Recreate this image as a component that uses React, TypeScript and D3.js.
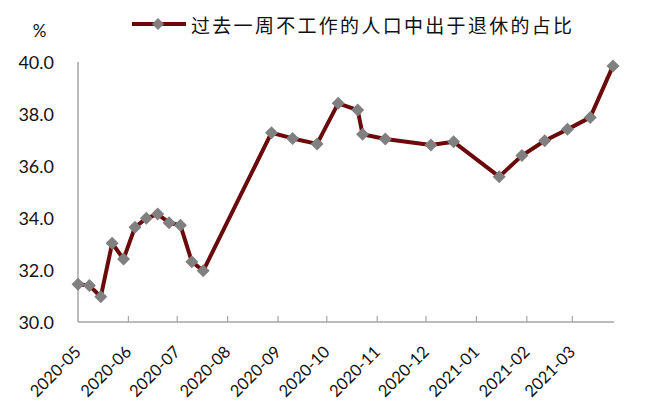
import React from "react";
import * as d3 from "d3";

const dates = [
  "2020-05-01", "2020-05-08", "2020-05-15", "2020-05-22", "2020-05-29",
  "2020-06-05", "2020-06-12", "2020-06-19", "2020-06-26", "2020-07-03",
  "2020-07-10", "2020-07-17", "2020-08-28", "2020-09-10", "2020-09-25",
  "2020-10-08", "2020-10-20", "2020-10-23", "2020-11-06", "2020-12-04",
  "2020-12-18", "2021-01-15", "2021-01-29", "2021-02-12", "2021-02-26",
  "2021-03-12", "2021-03-26",
];
const values = [
  31.45, 31.4, 30.97, 33.03, 32.42, 33.64, 33.99, 34.15, 33.82, 33.72,
  32.32, 31.97, 37.28, 37.06, 36.85, 38.41, 38.15, 37.22, 37.04, 36.81,
  36.93, 35.59, 36.4, 36.97, 37.41, 37.87, 39.85,
];
const yTicks = [30, 32, 34, 36, 38, 40];
const seriesName = "过去一周不工作的人口中出于退休的占比";
const unitLabel = "%";

const W = 648;
const H = 411;

export default function App() {
  const parse = d3.timeParse("%Y-%m-%d");
  const ds = dates.map((s) => parse(s) as Date);
  const x = d3
    .scaleTime()
    .domain([ds[0], ds[ds.length - 1]])
    .range([78, 613]);
  const y = d3.scaleLinear().domain([30, 40]).range([322, 62]);
  const monthTicks = d3.timeMonth.range(ds[0], d3.timeDay.offset(ds[ds.length - 1], 1));
  const fmt = d3.timeFormat("%Y-%m");
  const line = d3
    .line<number>()
    .x((_, i) => x(ds[i]))
    .y((v) => y(v));
  const pts = values.map((v, i) => ({ px: x(ds[i]), py: y(v) }));
  const diamond = (cx: number, cy: number, r: number) =>
    `M${cx},${cy - r}L${cx + r},${cy}L${cx},${cy + r}L${cx - r},${cy}Z`;
  const axisColor = "#a6a6a6";
  const lineColor = "#6b0a0a";
  const markerColor = "#808080";

  return (
    <svg
      width={W}
      height={H}
      style={{ position: "absolute", left: 0, top: 0, background: "#fff" }}
    >
      {/* legend */}
      <line x1={132} x2={186} y1={24} y2={24} stroke={lineColor} strokeWidth={4} />
      <path d={diamond(158, 24, 6)} fill={markerColor} />
      <text
        x={191}
        y={24}
        dominantBaseline="central"
        fontFamily="'Noto Sans CJK SC', sans-serif"
        fontSize={19}
        letterSpacing={2.3}
        fill="#111"
      >
        {seriesName}
      </text>
      <text
        x={39.5}
        y={30}
        textAnchor="middle"
        dominantBaseline="central"
        fontFamily="Lato, sans-serif"
        fontSize={17}
        fill="#111"
      >
        {unitLabel}
      </text>

      {/* y axis labels */}
      {yTicks.map((t) => (
        <text
          key={t}
          x={54}
          y={y(t)}
          textAnchor="end"
          dominantBaseline="central"
          fontFamily="Lato, sans-serif"
          fontSize={18}
          fill="#111"
        >
          {t.toFixed(1)}
        </text>
      ))}

      {/* axes */}
      <line x1={78} x2={78} y1={62} y2={322} stroke={axisColor} strokeWidth={1.5} />
      <line x1={78} x2={614} y1={322} y2={322} stroke={axisColor} strokeWidth={1.5} />
      {monthTicks.map((d, i) => (
        <g key={i}>
          {i > 0 && (
            <line
              x1={x(d)}
              x2={x(d)}
              y1={316}
              y2={322}
              stroke={axisColor}
              strokeWidth={1.2}
            />
          )}
          <text
            transform={`translate(${x(d) + 4},${353}) rotate(-45)`}
            textAnchor="end"
            fontFamily="Lato, sans-serif"
            fontSize={16.5}
            fill="#111"
          >
            {fmt(d)}
          </text>
        </g>
      ))}

      {/* series */}
      <path
        d={line(values) || ""}
        fill="none"
        stroke={lineColor}
        strokeWidth={4}
        strokeLinejoin="round"
      />
      {pts.map((p, i) => (
        <path key={i} d={diamond(p.px, p.py, 6.5)} fill={markerColor} />
      ))}
    </svg>
  );
}
